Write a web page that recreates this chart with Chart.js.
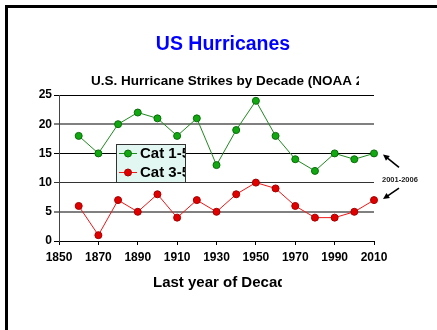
<!DOCTYPE html>
<html>
<head>
<meta charset="utf-8">
<script src="https://cdn.jsdelivr.net/npm/chart.js@4"></script>
<style>
  html, body { margin: 0; padding: 0; background: #fff; }
  canvas { display: block; }
</style>
</head>
<body>
<canvas id="hurricaneChart" width="437" height="330"></canvas>
<script>
// data
const years = [1860, 1870, 1880, 1890, 1900, 1910, 1920, 1930, 1940, 1950, 1960, 1970, 1980, 1990, 2000, 2010];
const cat1to5 = [18, 15, 20, 22, 21, 18, 21, 13, 19, 24, 18, 14, 12, 15, 14, 15];
const cat3to5 = [6, 1, 7, 5, 8, 4, 7, 5, 8, 10, 9, 6, 4, 4, 5, 7];
const seriesNames = ['Cat 1-5', 'Cat 3-5'];
const yTicks = [0, 5, 10, 15, 20, 25];
const xTicks = [1850, 1870, 1890, 1910, 1930, 1950, 1970, 1990, 2010];

const mainTitle = 'US Hurricanes';
const subTitle = 'U.S. Hurricane Strikes by Decade (NOAA 2004)';
const xTitle = 'Last year of Decade';
const noteText = '2001-2006';

const FONT = "'Liberation Sans', Arial, sans-serif";

const green = { line: '#1f8a1f', fill: '#12a812', border: '#0a6e0a' };
const red = { line: '#f01818', fill: '#e00000', border: '#a80000' };

function toPoints(vals) {
  return years.map((y, i) => ({ x: y, y: vals[i] }));
}

function gridColor(v) {
  if (v === 20 || v === 5) return '#808080';
  if (v === 10) return '#333333';
  return '#000000';
}

function arrow(ctx, x1, y1, x2, y2) {
  const ang = Math.atan2(y2 - y1, x2 - x1);
  ctx.beginPath();
  ctx.moveTo(x1, y1);
  ctx.lineTo(x2 - 3 * Math.cos(ang), y2 - 3 * Math.sin(ang));
  ctx.stroke();
  ctx.beginPath();
  ctx.moveTo(x2, y2);
  ctx.lineTo(x2 - 7 * Math.cos(ang - 0.45), y2 - 7 * Math.sin(ang - 0.45));
  ctx.lineTo(x2 - 7 * Math.cos(ang + 0.45), y2 - 7 * Math.sin(ang + 0.45));
  ctx.closePath();
  ctx.fill();
}

const slideDecor = {
  id: 'slideDecor',
  beforeDraw(chart) {
    const ctx = chart.ctx;
    ctx.save();
    ctx.fillStyle = '#fff';
    ctx.fillRect(0, 0, chart.width, chart.height);
    // slide frame (top + left edges visible)
    ctx.strokeStyle = '#000';
    ctx.lineWidth = 3;
    ctx.beginPath();
    ctx.moveTo(6.5, chart.height);
    ctx.lineTo(6.5, 6.5);
    ctx.lineTo(chart.width, 6.5);
    ctx.stroke();
    ctx.restore();
  },
  afterDatasetsDraw(chart) {
    const ctx = chart.ctx;
    const xs = chart.scales.x, ys = chart.scales.y;
    ctx.save();

    // legend box sitting in the plot
    const bx = 116, by = 144, bw = 69, bh = 38;
    ctx.fillStyle = '#e2f6f2';
    ctx.fillRect(bx, by, bw, bh);
    ctx.strokeStyle = '#333';
    ctx.lineWidth = 1;
    ctx.strokeRect(bx + 0.5, by + 0.5, bw, bh);
    ctx.save();
    ctx.beginPath();
    ctx.rect(bx, by, bw, bh);
    ctx.clip();
    [green, red].forEach((c, i) => {
      const ry = i === 0 ? 153.5 : 172.5;
      ctx.strokeStyle = c.line;
      ctx.lineWidth = 1;
      ctx.beginPath();
      ctx.moveTo(119, ry);
      ctx.lineTo(137, ry);
      ctx.stroke();
      ctx.fillStyle = c.fill;
      ctx.strokeStyle = c.border;
      ctx.beginPath();
      ctx.arc(128, ry, 3.5, 0, Math.PI * 2);
      ctx.fill();
      ctx.stroke();
      ctx.fillStyle = '#000';
      ctx.font = 'bold 15px ' + FONT;
      ctx.textBaseline = 'middle';
      ctx.textAlign = 'left';
      ctx.fillText(seriesNames[i], 140, ry + 0.5);
    });
    ctx.restore();

    // note arrows pointing at the last decade
    const lastX = xs.getPixelForValue(years[years.length - 1]);
    const gY = ys.getPixelForValue(cat1to5[cat1to5.length - 1]);
    const rY = ys.getPixelForValue(cat3to5[cat3to5.length - 1]);
    ctx.strokeStyle = '#000';
    ctx.fillStyle = '#000';
    ctx.lineWidth = 1.6;
    arrow(ctx, lastX + 25, gY + 14, lastX + 9, gY + 1);
    arrow(ctx, lastX + 25, rY - 12, lastX + 9, rY - 1);
    ctx.fillStyle = '#222';
    ctx.font = 'bold 7.5px ' + FONT;
    ctx.textAlign = 'left';
    ctx.textBaseline = 'middle';
    ctx.fillText(noteText, 382, 179.5);
    ctx.restore();
  },
  afterDraw(chart) {
    const ctx = chart.ctx;
    ctx.save();
    ctx.fillStyle = '#0000ff';
    ctx.font = 'bold 19.5px ' + FONT;
    ctx.textAlign = 'center';
    ctx.textBaseline = 'alphabetic';
    ctx.fillText(mainTitle, 223, 50);

    // chart title, cut off by its frame
    ctx.save();
    ctx.beginPath();
    ctx.rect(0, 60, 359, 30);
    ctx.clip();
    ctx.fillStyle = '#000';
    ctx.font = 'bold 13.5px ' + FONT;
    ctx.textAlign = 'left';
    ctx.fillText(subTitle, 91, 84.5);
    ctx.restore();

    // axis title, also cut off
    ctx.save();
    ctx.beginPath();
    ctx.rect(0, 266, 282, 30);
    ctx.clip();
    ctx.fillStyle = '#000';
    ctx.font = 'bold 15px ' + FONT;
    ctx.textAlign = 'left';
    ctx.fillText(xTitle, 153, 286.5);
    ctx.restore();
    ctx.restore();
  }
};

new Chart(document.getElementById('hurricaneChart'), {
  type: 'line',
  data: {
    datasets: [
      {
        label: seriesNames[0],
        data: toPoints(cat1to5),
        borderColor: green.line,
        borderWidth: 1,
        pointBackgroundColor: green.fill,
        pointBorderColor: green.border,
        pointBorderWidth: 1,
        pointRadius: 3.5,
        tension: 0,
        clip: false
      },
      {
        label: seriesNames[1],
        data: toPoints(cat3to5),
        borderColor: red.line,
        borderWidth: 1,
        pointBackgroundColor: red.fill,
        pointBorderColor: red.border,
        pointBorderWidth: 1,
        pointRadius: 3.5,
        tension: 0,
        clip: false
      }
    ]
  },
  options: {
    responsive: false,
    animation: false,
    layout: { padding: { left: 0, right: 63, top: 95, bottom: 69 } },
    plugins: {
      legend: { display: false },
      title: { display: false },
      tooltip: { enabled: false }
    },
    scales: {
      x: {
        type: 'linear',
        min: xTicks[0],
        max: xTicks[xTicks.length - 1],
        afterFit(scale) { scale.height = 20; },
        afterBuildTicks(scale) { scale.ticks = xTicks.map(v => ({ value: v })); },
        border: { display: true, color: '#000', width: 1 },
        grid: { drawOnChartArea: false, drawTicks: true, tickLength: 4, color: '#000' },
        ticks: {
          color: '#000',
          padding: 5,
          maxRotation: 0,
          font: { family: FONT, size: 12, weight: 'bold' },
          callback: v => String(v)
        }
      },
      y: {
        min: yTicks[0],
        max: yTicks[yTicks.length - 1],
        afterFit(scale) { scale.width = 59; },
        afterBuildTicks(scale) { scale.ticks = yTicks.map(v => ({ value: v })); },
        border: { display: true, color: '#444', width: 1 },
        grid: {
          drawTicks: true,
          tickLength: 5,
          color: ctx => gridColor(ctx.tick ? ctx.tick.value : 0),
          lineWidth: ctx => (ctx.tick && (ctx.tick.value === 20 || ctx.tick.value === 5)) ? 2 : 1
        },
        ticks: {
          color: '#000',
          padding: 2,
          font: { family: FONT, size: 12, weight: 'bold' }
        }
      }
    }
  },
  plugins: [slideDecor]
});
</script>
</body>
</html>
